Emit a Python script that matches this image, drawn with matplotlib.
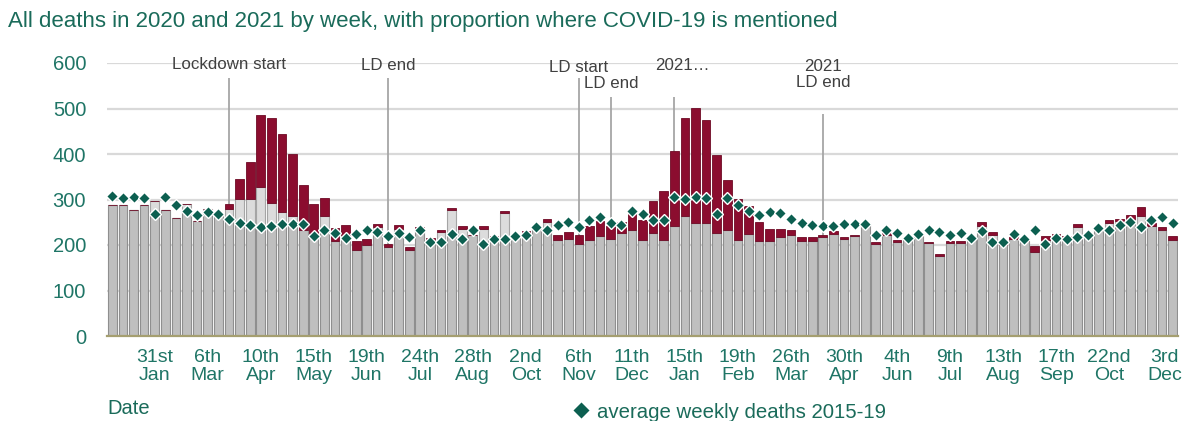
import numpy as np
import matplotlib
matplotlib.use("Agg")
import matplotlib.pyplot as plt
import matplotlib.transforms as mtransforms

# ---- data -------------------------------------------------------------
weeks = list(range(101))  # weekly categories, 3 Jan 2020 .. 3 Dec 2021

non_covid = [288, 287, 276, 287, 297, 276, 259, 291, 252, 280,
             268, 280, 301, 301, 327, 292, 272, 263, 234, 226,
             263, 208, 222, 188, 199, 239, 195, 236, 189, 235,
             210, 228, 278, 235, 222, 236, 217, 270, 220, 225,
             237, 250, 210, 213, 202, 211, 220, 213, 226, 233,
             211, 227, 210, 242, 264, 248, 248, 227, 234, 211,
             224, 208, 208, 218, 222, 208, 208, 218, 225, 214,
             219, 248, 202, 222, 207, 217, 224, 204, 176, 205,
             205, 218, 242, 222, 200, 213, 208, 184, 211, 219,
             216, 240, 223, 240, 248, 252, 257, 263, 242, 232,
             211]

covid = [0, 0, 0, 0, 0, 0, 0, 0, 0, 0,
         0, 11, 45, 81, 158, 187, 171, 137, 98, 65,
         40, 29, 23, 20, 14, 8, 7, 8, 6, 5,
         5, 5, 4, 6, 0, 5, 3, 5, 0, 5,
         0, 8, 13, 15, 20, 31, 33, 28, 24, 35,
         45, 69, 109, 165, 215, 253, 226, 170, 108, 91,
         62, 42, 27, 17, 11, 9, 10, 3, 5, 4,
         4, 0, 4, 4, 4, 0, 0, 3, 4, 3,
         3, 0, 8, 6, 4, 5, 5, 13, 9, 6,
         3, 7, 4, 0, 7, 5, 8, 20, 6, 8,
         9]

average_2015_19 = [307, 304, 305, 304, 269, 305, 289, 275, 266, 272,
                   269, 258, 248, 243, 240, 241, 246, 246, 247, 220,
                   232, 226, 216, 224, 233, 229, 220, 226, 217, 232,
                   206, 206, 224, 213, 233, 203, 213, 213, 219, 221,
                   240, 232, 244, 250, 240, 256, 261, 248, 244, 274,
                   269, 256, 256, 306, 302, 305, 304, 269, 304, 289,
                   275, 266, 273, 270, 258, 248, 243, 241, 241, 247,
                   247, 247, 221, 232, 226, 215, 224, 234, 229, 222,
                   226, 215, 230, 206, 207, 225, 214, 233, 203, 215,
                   214, 218, 221, 238, 232, 245, 250, 239, 256, 261,
                   248]

tick_idx = [4, 9, 14, 19, 24, 29, 34, 39, 44, 49, 54, 59, 64, 69, 74,
            79, 84, 89, 94, 100]
tick_labels = ["31st\nJan", "6th\nMar", "10th\nApr", "15th\nMay", "19th\nJun",
               "24th\nJul", "28th\nAug", "2nd\nOct", "6th\nNov", "11th\nDec",
               "15th\nJan", "19th\nFeb", "26th\nMar", "30th\nApr", "4th\nJun",
               "9th\nJul", "13th\nAug", "17th\nSep", "22nd\nOct", "3rd\nDec"]

events = ["Lockdown start", "LD end", "LD start", "LD end", "2021\u2026", "2021\nLD end"]
event_week = [11, 26, 44, 47, 53, 67]
event_line_top = [568, 568, 566, 526, 526, 487]
event_text_x = [11, 26, 44, 47.05, 53.75, 67.05]
event_text_y = [597, 595, 590, 556, 595, 575]

# ---- styling ----------------------------------------------------------
plt.rcParams['font.family'] = ['Liberation Sans', 'DejaVu Sans']
TEAL = "#1f7566"
TITLE = "#1a6b5a"
GREY = "#bfbfbf"
LIGHT = "#dcdcdc"
RED = "#8b0d2f"
DIAM = "#0c5f50"

x = np.array(weeks)
nc = np.array(non_covid)
cv = np.array(covid)
av = np.array(average_2015_19)
grey_part = np.minimum(nc, av)
light_part = np.maximum(nc - av, 0)

fig = plt.figure(figsize=(11.93, 4.21), dpi=100)
ax = fig.add_axes([107 / 1193, 85 / 421, (1178 - 107) / 1193, (336 - 63) / 421])

ax.set_ylim(0, 600)
ax.set_xlim(-0.5, len(weeks) - 0.5)
ax.set_yticks([0, 100, 200, 300, 400, 500, 600])
ax.yaxis.grid(True, color="#d9d9d9", linewidth=1.6, zorder=0)
ax.set_axisbelow(True)

# event lines behind bars
for wk, top in zip(event_week, event_line_top):
    ax.vlines(wk, 0, top, color="#a6a6a6", linewidth=1.3, zorder=1)
for txt, tx, ty in zip(events, event_text_x, event_text_y):
    ax.text(tx, ty, txt, ha="center", va="center", fontsize=12.2,
            color="#404040", linespacing=1.05, zorder=5)

bw = 0.82
ax.bar(x, grey_part, width=bw, color=GREY, edgecolor="#8f8f8f", linewidth=0.8, zorder=2)
ax.bar(x, light_part, bottom=grey_part, width=bw, color=LIGHT, edgecolor="#a5a5a5",
       linewidth=0.8, zorder=2)
ax.bar(x, cv, bottom=nc, width=bw, color=RED, edgecolor="#6e0a25", linewidth=0.6, zorder=2)

ax.plot(x, av, linestyle="none", marker="D", markersize=6.3, markerfacecolor=DIAM,
        markeredgecolor="white", markeredgewidth=1.0, zorder=4,
        label="average weekly deaths 2015-19")

for s in ["top", "right", "left"]:
    ax.spines[s].set_visible(False)
ax.spines["bottom"].set_color("#a59f70")
ax.spines["bottom"].set_linewidth(1.6)
ax.spines["bottom"].set_zorder(3)

ax.set_xticks(tick_idx)
ax.set_xticklabels(tick_labels, linespacing=1.1)
ax.tick_params(axis="x", length=0, pad=9, labelsize=14, labelcolor=TEAL)
ax.tick_params(axis="y", length=0, pad=15, labelsize=14.5, labelcolor=TEAL)
# last label is nudged left to stay inside the chart, as in the source
lbl = ax.get_xticklabels()[-1]
lbl.set_transform(lbl.get_transform() + mtransforms.ScaledTranslation(-8 / 100, 0, fig.dpi_scale_trans))

fig.text(8 / 1193, 1 - 21 / 421, "All deaths in 2020 and 2021 by week, with proportion where COVID-19 is mentioned",
         fontsize=16, color=TITLE, ha="left", va="center")
fig.text(107 / 1193, 1 - 408 / 421, "Date", fontsize=14.5, color=TITLE, ha="left", va="center")

fig.legend(loc="center left", bbox_to_anchor=(571 / 1193, 1 - 412 / 421), frameon=False,
           fontsize=14.7, labelcolor=TITLE, handletextpad=0.25, handlelength=1.0,
           borderaxespad=0, borderpad=0, markerscale=1.5)

fig.savefig("out.png", dpi=100)
